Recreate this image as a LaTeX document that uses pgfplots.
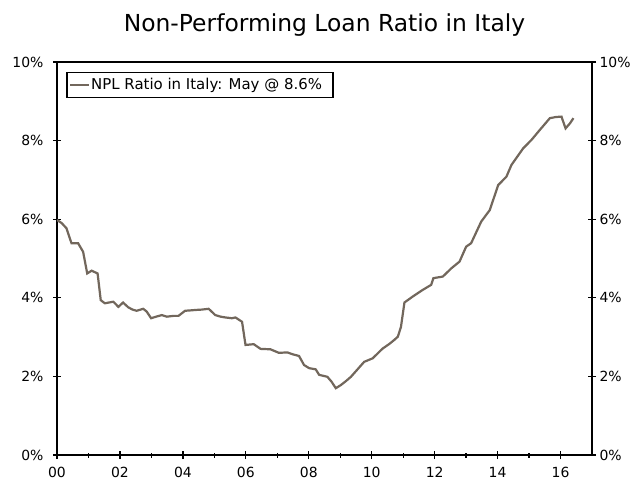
\documentclass[border=0pt]{standalone}
\usepackage{pgfplots}
\pgfplotsset{compat=1.18}
\usepackage{fontspec}
\setmainfont{DejaVu Sans}
\definecolor{npl}{RGB}{114,103,92}
\pgfplotstableread{
year val
2000.00 5.98
2000.15 5.90
2000.30 5.77
2000.46 5.39
2000.67 5.39
2000.83 5.17
2000.96 4.62
2001.10 4.69
2001.29 4.62
2001.39 3.94
2001.52 3.86
2001.65 3.88
2001.79 3.90
2001.95 3.77
2002.10 3.88
2002.26 3.76
2002.40 3.70
2002.53 3.67
2002.74 3.72
2002.85 3.65
2002.99 3.48
2003.15 3.52
2003.33 3.56
2003.49 3.52
2003.70 3.54
2003.86 3.54
2004.07 3.67
2004.25 3.68
2004.39 3.69
2004.60 3.70
2004.82 3.72
2005.03 3.56
2005.20 3.52
2005.35 3.50
2005.56 3.48
2005.67 3.50
2005.88 3.39
2005.99 2.80
2006.25 2.82
2006.47 2.70
2006.78 2.69
2007.05 2.60
2007.32 2.61
2007.50 2.56
2007.69 2.52
2007.85 2.29
2008.01 2.21
2008.22 2.18
2008.33 2.04
2008.59 1.99
2008.72 1.87
2008.86 1.70
2009.02 1.78
2009.18 1.88
2009.34 1.99
2009.55 2.18
2009.76 2.37
2010.03 2.46
2010.35 2.71
2010.55 2.82
2010.72 2.93
2010.83 3.01
2010.93 3.26
2011.04 3.88
2011.30 4.03
2011.62 4.20
2011.89 4.33
2011.96 4.50
2012.26 4.54
2012.53 4.75
2012.79 4.92
2013.00 5.30
2013.16 5.39
2013.48 5.94
2013.75 6.23
2014.02 6.87
2014.28 7.08
2014.44 7.38
2014.81 7.80
2015.08 8.02
2015.34 8.27
2015.66 8.57
2015.85 8.60
2016.03 8.61
2016.16 8.31
2016.30 8.44
2016.41 8.57
}\npldata
\begin{document}
\begin{tikzpicture}
\path[use as bounding box] (-57bp,-26bp) rectangle (582bp,455bp);
\pgfplotsset{
  common/.style={
    scale only axis, width=535bp, height=393bp,
    at={(0,0)}, anchor=south west,
    xmin=2000, xmax=2017, ymin=0, ymax=10,
    ytick={0,2,...,10},
    yticklabel={\pgfmathprintnumber{\tick}\%},
    tick align=center,
    major tick length=8bp, minor tick length=5bp,
    axis line style={line width=1.3bp, black},
    every tick/.style={black, line width=1.3bp},
    tick label style={font=\fontsize{14}{14}\selectfont, text=black},
    /pgf/number format/assume math mode=true,
  }
}
\begin{axis}[common,
  xtick={2000,2002,...,2016},
  xticklabels={00,02,04,06,08,10,12,14,16},
  minor xtick={2001,2003,...,2015},
  tick pos=left,
  yticklabel style={xshift=-6bp},
  xticklabel style={inner ysep=1bp, yshift=-7bp},
  title={Non-Performing Loan Ratio in Italy},
  title style={font=\fontsize{23.5}{25}\selectfont, at={(0.5,1)}, anchor=center, yshift=31bp},
  legend style={at={(0.0176,0.9753)}, anchor=north west, draw=black, line width=1.2bp,
    font=\fontsize{15}{16}\selectfont, inner xsep=2bp, inner ysep=4bp,
    nodes={inner xsep=1bp}},
  legend image code/.code={\draw[#1, line width=2.2bp] (6bp,0bp) -- (25bp,0bp);},
  legend cell align=left,
]
\addplot[npl, line width=2.2bp] table[x=year, y=val] {\npldata};
\addlegendentry{NPL Ratio in Italy: May @ 8.6\%\kern8bp}
\end{axis}
\begin{axis}[common,
  axis y line*=right, axis x line=none,
  xtick=\empty,
]
\end{axis}
\end{tikzpicture}
\end{document}
